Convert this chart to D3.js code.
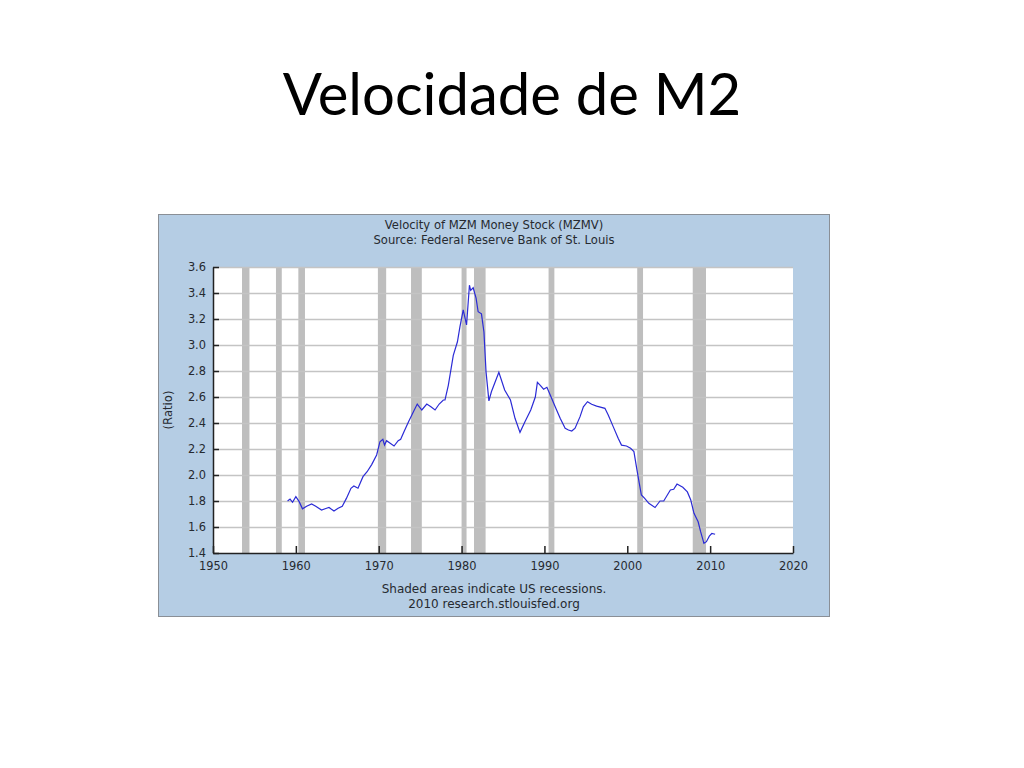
<!DOCTYPE html>
<html>
<head>
<meta charset="utf-8">
<script src="https://cdn.jsdelivr.net/npm/d3@7"></script>
<style>
  html, body { margin: 0; padding: 0; background: #fff; }
  svg { display: block; }
</style>
</head>
<body>
<svg id="slide" width="1024" height="768"></svg>
<script>
// velocity of MZM (decimal year, ratio)
const years = [
  1959.0, 1959.3, 1959.6, 1960.0, 1960.4, 1960.8, 1961.3, 1961.9, 1962.4, 1963.1,
  1963.7, 1964.0, 1964.3, 1964.6, 1965.1, 1965.6, 1966.1, 1966.65, 1967.0, 1967.5,
  1968.1, 1968.6, 1969.15, 1969.75, 1970.15, 1970.5, 1970.7, 1970.95, 1971.85, 1972.35,
  1972.65, 1973.05, 1973.6, 1974.1, 1974.65, 1975.2, 1975.8, 1976.3, 1976.8, 1977.3,
  1977.8, 1978.0, 1978.4, 1979.0, 1979.5, 1979.8, 1980.2, 1980.6, 1980.95, 1981.1,
  1981.4, 1981.75, 1982.0, 1982.4, 1982.7, 1982.95, 1983.3, 1983.6, 1984.5, 1985.2,
  1985.9, 1986.45, 1987.05, 1987.65, 1988.35, 1988.9, 1989.15, 1989.5, 1989.9, 1990.3,
  1990.7, 1991.3, 1991.9, 1992.5, 1992.9, 1993.3, 1993.7, 1994.3, 1994.7, 1995.2,
  1995.7, 1996.3, 1997.3, 1997.7, 1998.3, 1998.9, 1999.3, 1999.9, 2000.4, 2000.8,
  2001.1, 2001.45, 2001.7, 2002.1, 2002.6, 2003.35, 2003.95, 2004.4, 2005.2, 2005.6,
  2006.0, 2006.7, 2007.25, 2007.65, 2008.05, 2008.55, 2008.85, 2009.25, 2009.55, 2009.9,
  2010.2, 2010.6
];
const velocity = [
  1.80, 1.815, 1.79, 1.833, 1.795, 1.74, 1.76, 1.777, 1.76, 1.73,
  1.744, 1.75, 1.736, 1.723, 1.744, 1.76, 1.82, 1.898, 1.915, 1.898,
  1.987, 2.025, 2.08, 2.154, 2.256, 2.275, 2.23, 2.264, 2.223, 2.264,
  2.275, 2.333, 2.41, 2.475, 2.546, 2.50, 2.546, 2.525, 2.50, 2.546,
  2.577, 2.577, 2.69, 2.92, 3.025, 3.14, 3.27, 3.154, 3.46, 3.42,
  3.44, 3.36, 3.256, 3.24, 3.10, 2.795, 2.57, 2.64, 2.79, 2.654,
  2.577, 2.436, 2.328, 2.41, 2.50, 2.60, 2.713, 2.69, 2.66, 2.675,
  2.615, 2.525, 2.436, 2.36, 2.346, 2.338, 2.36, 2.449, 2.525, 2.564,
  2.544, 2.53, 2.513, 2.462, 2.372, 2.282, 2.23, 2.223, 2.205, 2.18,
  2.064, 1.936, 1.846, 1.82, 1.782, 1.75, 1.80, 1.80, 1.885, 1.89,
  1.93, 1.905, 1.87, 1.81, 1.705, 1.64, 1.564, 1.474, 1.487, 1.53,
  1.55, 1.544
];

// US recessions (start, end) in decimal years
const recessionStart = [1953.5, 1957.6, 1960.3, 1969.9, 1973.9, 1980.0, 1981.5, 1990.5, 2001.2, 2007.9];
const recessionEnd   = [1954.4, 1958.3, 1961.1, 1970.9, 1975.2, 1980.6, 1982.9, 1991.2, 2001.9, 2009.5];

const xTicks = [1950, 1960, 1970, 1980, 1990, 2000, 2010, 2020];
const yTicks = [1.4, 1.6, 1.8, 2.0, 2.2, 2.4, 2.6, 2.8, 3.0, 3.2, 3.4, 3.6];

const titleLines = ["Velocity of MZM Money Stock (MZMV)", "Source: Federal Reserve Bank of St. Louis"];
const footLines = ["Shaded areas indicate US recessions.", "2010 research.stlouisfed.org"];

const svg = d3.select("#slide");

// slide title
svg.append("text")
  .attr("x", 512)
  .attr("y", 115)
  .attr("text-anchor", "middle")
  .style("font-family", "Lato, 'Open Sans', sans-serif")
  .style("font-size", "58px")
  .style("fill", "#000")
  .text("Velocidade de M2");

// chart panel
const panel = { x: 158, y: 214, w: 672, h: 403 };
const chartFont = "'DejaVu Sans', Verdana, sans-serif";
const textColor = "#262a30";

svg.append("rect")
  .attr("x", panel.x + 0.5)
  .attr("y", panel.y + 0.5)
  .attr("width", panel.w - 1)
  .attr("height", panel.h - 1)
  .style("fill", "#b5cde4")
  .style("stroke", "#8a8f96")
  .style("stroke-width", 1);

const margin = { top: 53, left: 55, right: 37, bottom: 64 };
const width = panel.w - margin.left - margin.right,
  height = panel.h - margin.top - margin.bottom;

const g = svg.append("g")
  .attr("transform", `translate(${panel.x + margin.left}, ${panel.y + margin.top})`);

const x = d3.scaleLinear().domain([1950, 2020]).range([0, width]);
const y = d3.scaleLinear().domain([1.4, 3.6]).range([height, 0]);

// plot background
g.append("rect")
  .attr("width", width)
  .attr("height", height)
  .style("fill", "#fff");

// recession shading
g.selectAll(".recession")
  .data(recessionStart.map((s, i) => ({ s: s, e: recessionEnd[i] })))
  .join("rect")
  .attr("class", "recession")
  .attr("x", (d) => x(d.s))
  .attr("y", 0)
  .attr("width", (d) => x(d.e) - x(d.s))
  .attr("height", height)
  .style("fill", "#bebebe");

// horizontal gridlines
g.selectAll(".grid")
  .data(yTicks.slice(1))
  .join("line")
  .attr("class", "grid")
  .attr("x1", 0)
  .attr("x2", width)
  .attr("y1", (d) => Math.round(y(d)) + 0.5)
  .attr("y2", (d) => Math.round(y(d)) + 0.5)
  .style("stroke", "#c4c4c4")
  .style("stroke-width", 1.6);

// the series
const line = d3.line()
  .x((d) => x(d[0]))
  .y((d) => y(d[1]));

g.append("path")
  .datum(years.map((yr, i) => [yr, velocity[i]]))
  .attr("d", line)
  .style("fill", "none")
  .style("stroke", "#2b2bd6")
  .style("stroke-width", 1.2);

// axes: ticks point inward, labels outside
const yAxis = g.append("g")
  .call(d3.axisLeft(y).tickValues(yTicks).tickFormat(d3.format(".1f")).tickSizeInner(-6).tickSizeOuter(0).tickPadding(7));
const xAxis = g.append("g")
  .attr("transform", `translate(0, ${height})`)
  .call(d3.axisBottom(x).tickValues(xTicks).tickFormat(d3.format("d")).tickSizeInner(-7).tickSizeOuter(0).tickPadding(9));

[yAxis, xAxis].forEach((ax) => {
  ax.select(".domain").style("stroke", "#222").style("stroke-width", 1.5);
  ax.selectAll(".tick line").style("stroke", "#222").style("stroke-width", 1.5);
  ax.selectAll("text")
    .style("font-family", chartFont)
    .style("font-size", "11.4px")
    .style("fill", textColor);
});

// y axis label
svg.append("text")
  .attr("transform", `translate(${panel.x + 10}, ${panel.y + margin.top + height / 2}) rotate(-90)`)
  .attr("text-anchor", "middle")
  .attr("dy", "0.35em")
  .style("font-family", chartFont)
  .style("font-size", "11.6px")
  .style("fill", textColor)
  .text("(Ratio)");

// header and footer text
svg.selectAll(".head")
  .data(titleLines)
  .join("text")
  .attr("class", "head")
  .attr("x", panel.x + panel.w / 2)
  .attr("y", (d, i) => panel.y + 15 + i * 15)
  .attr("text-anchor", "middle")
  .style("font-family", chartFont)
  .style("font-size", "11.6px")
  .style("fill", textColor)
  .text((d) => d);

svg.selectAll(".foot")
  .data(footLines)
  .join("text")
  .attr("class", "foot")
  .attr("x", panel.x + panel.w / 2)
  .attr("y", (d, i) => panel.y + 379 + i * 15)
  .attr("text-anchor", "middle")
  .style("font-family", chartFont)
  .style("font-size", "12px")
  .style("fill", textColor)
  .text((d) => d);
</script>
</body>
</html>
